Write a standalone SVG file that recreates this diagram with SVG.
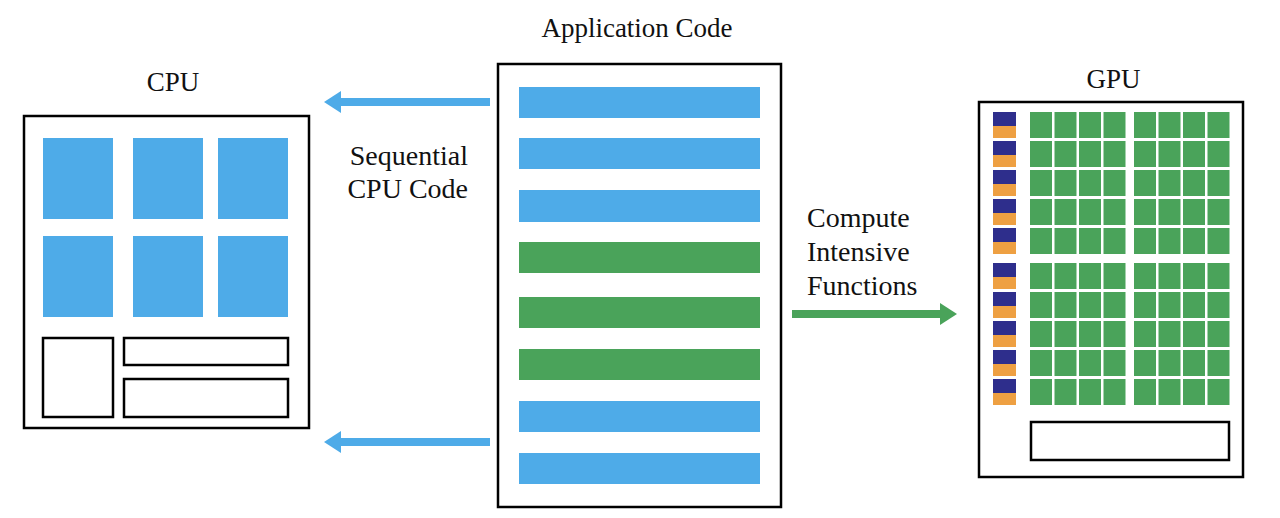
<svg xmlns="http://www.w3.org/2000/svg" width="1280" height="518" viewBox="0 0 1280 518">
<defs>
<style>
.frame{fill:#fff;stroke:#000;stroke-width:2.5}
.box{fill:#fff;stroke:#000;stroke-width:2.5}
.blue{fill:#4eabe8}
.green{fill:#4aa35a}
.navy{fill:#2e2e8c}
.orange{fill:#eea042}
.lbl{font-family:"Liberation Serif","Times New Roman",serif;font-size:27px;fill:#111}
.lbl2{font-family:"Liberation Serif","Times New Roman",serif;font-size:28px;fill:#111}
</style>
<g id="gcol">
<rect class="green" x="0" y="0" width="22" height="26"/>
<rect class="green" x="0" y="29" width="22" height="26"/>
<rect class="green" x="0" y="58" width="22" height="26"/>
<rect class="green" x="0" y="87" width="22" height="26"/>
<rect class="green" x="0" y="116" width="22" height="26"/>
</g>
<g id="gblock">
<use href="#gcol" x="0"/>
<use href="#gcol" x="24.5"/>
<use href="#gcol" x="49"/>
<use href="#gcol" x="73.5"/>
</g>
<g id="ctrl">
<rect class="navy" x="0" y="0" width="23" height="14"/>
<rect class="orange" x="0" y="14" width="23" height="12"/>
<rect class="navy" x="0" y="29" width="23" height="14"/>
<rect class="orange" x="0" y="43" width="23" height="12"/>
<rect class="navy" x="0" y="58" width="23" height="14"/>
<rect class="orange" x="0" y="72" width="23" height="12"/>
<rect class="navy" x="0" y="87" width="23" height="14"/>
<rect class="orange" x="0" y="101" width="23" height="12"/>
<rect class="navy" x="0" y="116" width="23" height="14"/>
<rect class="orange" x="0" y="130" width="23" height="12"/>
</g>
</defs>
<rect width="1280" height="518" fill="#fff"/>

<g id="cpu">
<text class="lbl" x="173" y="91" text-anchor="middle">CPU</text>
<rect class="frame" x="24" y="116" width="285" height="312"/>
<rect class="blue" x="43" y="138" width="70" height="81"/>
<rect class="blue" x="133" y="138" width="70" height="81"/>
<rect class="blue" x="218" y="138" width="70" height="81"/>
<rect class="blue" x="43" y="236" width="70" height="81"/>
<rect class="blue" x="133" y="236" width="70" height="81"/>
<rect class="blue" x="218" y="236" width="70" height="81"/>
<rect class="box" x="43" y="338" width="70" height="79"/>
<rect class="box" x="124" y="338" width="164" height="27"/>
<rect class="box" x="124" y="379" width="164" height="38"/>
</g>

<g id="app">
<text class="lbl" x="637" y="37" text-anchor="middle">Application Code</text>
<rect class="frame" x="498" y="64" width="283" height="443"/>
<rect class="blue" x="519" y="87" width="241" height="31"/>
<rect class="blue" x="519" y="138" width="241" height="31"/>
<rect class="blue" x="519" y="190" width="241" height="32"/>
<rect class="green" x="519" y="242" width="241" height="31"/>
<rect class="green" x="519" y="297" width="241" height="31"/>
<rect class="green" x="519" y="349" width="241" height="31"/>
<rect class="blue" x="519" y="401" width="241" height="31"/>
<rect class="blue" x="519" y="453" width="241" height="31"/>
</g>

<g id="gpu">
<text class="lbl" x="1113.5" y="88" text-anchor="middle">GPU</text>
<rect class="frame" x="979" y="102" width="264" height="375"/>
<use href="#ctrl" x="993" y="112"/>
<use href="#ctrl" x="993" y="263"/>
<use href="#gblock" x="1030" y="112"/>
<use href="#gblock" x="1134" y="112"/>
<use href="#gblock" x="1030" y="263"/>
<use href="#gblock" x="1134" y="263"/>
<rect class="box" x="1031" y="422" width="198" height="38"/>
</g>

<g id="connectors">
<g id="seq-top">
<rect class="blue" x="338" y="98" width="152" height="8"/>
<polygon class="blue" points="324,102 341,91 341,113"/>
</g>
<g id="seq-bottom">
<rect class="blue" x="338" y="438" width="152" height="8"/>
<polygon class="blue" points="324,442 341,431 341,453"/>
</g>
<g id="compute">
<rect class="green" x="792" y="310" width="150" height="8"/>
<polygon class="green" points="957,314 940,303 940,325"/>
</g>
</g>

<g id="labels">
<text class="lbl2" text-anchor="end"><tspan x="468" y="165">Sequential</tspan><tspan x="468" y="198">CPU Code</tspan></text>
<text class="lbl2"><tspan x="807" y="227">Compute</tspan><tspan x="807" y="261">Intensive</tspan><tspan x="807" y="295">Functions</tspan></text>
</g>
</svg>
